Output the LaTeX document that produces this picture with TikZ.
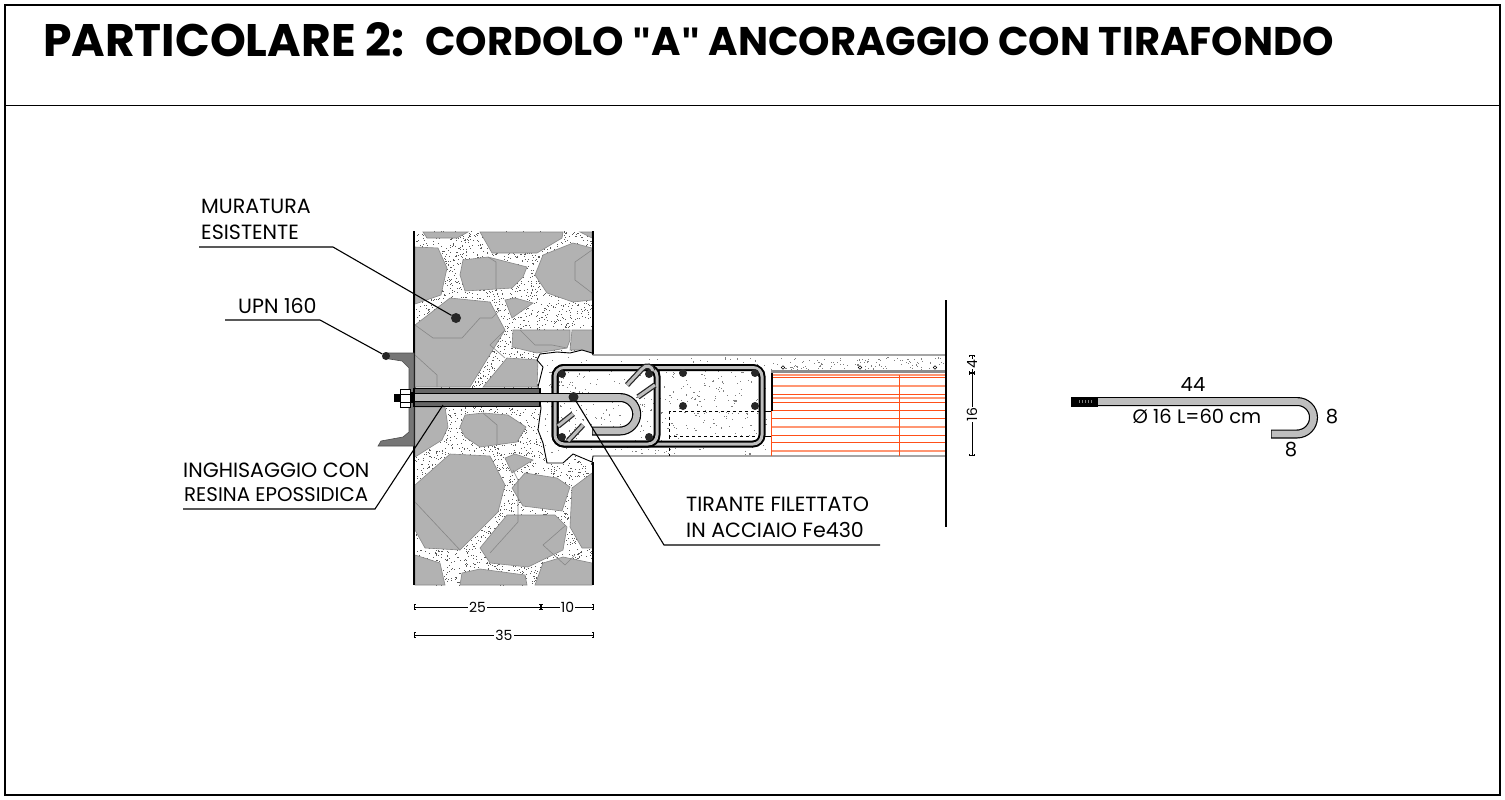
\documentclass[tikz,border=0pt]{standalone}
\usepackage{fontspec}
\setmainfont{Poppins}
\newfontfamily\quotefont{Liberation Sans}
\usetikzlibrary{arrows.meta}
\definecolor{stone}{RGB}{178,178,178}
\definecolor{stoneline}{RGB}{135,135,135}
\definecolor{steel}{RGB}{118,118,118}
\definecolor{hatch}{RGB}{190,190,190}
\definecolor{brickred}{RGB}{255,80,25}
\definecolor{brickpale}{RGB}{255,150,115}
\tikzset{
 stonepoly/.style={fill=stone,draw=stoneline,line width=.6pt},
 veinline/.style={draw=stoneline,line width=.6pt},
 wallside/.style={line width=2.6pt,black},
 labeltext/.style={font=\fontsize{20.6}{24}\selectfont,inner sep=0pt,anchor=west},
 leader/.style={line width=1.1pt,black},
 refdot/.style={circle,fill=black!85,inner sep=0pt,minimum size=10pt},
 bardot/.style={circle,fill=black!85,inner sep=0pt,minimum size=8pt},
 dimtext/.style={font=\fontsize{14}{16}\selectfont,inner sep=1pt,fill=white},
 dimline/.style={line width=.8pt,black,{|[width=6.5pt,length=1.6pt]}-{|[width=6.5pt,length=1.6pt]}},
 plaintext/.style={font=\fontsize{19.5}{22}\selectfont,inner sep=0pt},
 brickline/.style={brickred,line width=.9pt},
 brickfade/.style={brickpale,line width=1.5pt},
 tie outer/.style={line width=7pt,black,rounded corners=9pt},
 tie inner/.style={line width=3pt,hatch,rounded corners=9pt},
 hook outer/.style={line width=5.5pt,black!85,line cap=butt},
 hook inner/.style={line width=3pt,hatch,line cap=butt},
 rod outer/.style={line width=9pt,black,line cap=butt},
 rod inner/.style={line width=6.6pt,hatch,line cap=butt},
}
\begin{document}
\begin{tikzpicture}[x=1pt,y=-1pt]
\useasboundingbox (0,0) rectangle (1505,800);
\fill[white] (0,0) rectangle (1505,800);
% frame
\draw[line width=2.6pt] (5,5) rectangle (1500,795);
\draw[line width=.9pt] (5,105) -- (1500,105);
\node[inner sep=0pt,anchor=west] (titleA) at (43,40) {\fontsize{45.6}{50}\selectfont\bfseries PARTICOLARE 2:};
\node[inner sep=0pt,anchor=west] (titleB) at (425,41) {\fontsize{40}{46}\selectfont\bfseries CORDOLO {\quotefont"}A{\quotefont"} ANCORAGGIO CON TIRAFONDO};
% wall speckle
\pgfmathsetseed{4242}
\foreach \i in {1,...,5200}{
  \pgfmathsetmacro\sx{414+179*rnd}\pgfmathsetmacro\sy{231+354*rnd}
  \fill[black!65] (\sx,\sy) rectangle ++(.8,.8);
}
% stones
\draw[stonepoly] (423,232)--(468,232)--(457,238)--(427,238)--cycle;
\draw[stonepoly] (480,232)--(563,232)--(562,238)--(537,253)--(492,253)--cycle;
\draw[stonepoly] (580,232)--(592,232)--(592,238)--cycle;
\draw[stonepoly] (415,247)--(438,248)--(447,268)--(441,295)--(415,304)--cycle;
\draw[stonepoly] (463,260)--(488,257)--(527,267)--(523,277)--(512,288)--(465,291)--(460,275)--cycle;
\draw[stonepoly] (543,255)--(573,243)--(592,248)--(592,300)--(573,302)--(547,293)--(535,275)--cycle;
\draw[stonepoly] (505,300)--(515,298)--(533,303)--(512,318)--cycle;
\draw[stonepoly] (450,298)--(490,302)--(505,330)--(470,387)--(415,387)--(415,325)--cycle;
\draw[stonepoly] (513,330)--(570,330)--(570,340)--(567,348)--(537,353)--(512,347)--cycle;
\draw[stonepoly] (507,358)--(538,360)--(537,387)--(483,387)--cycle;
\draw[stonepoly] (572,330)--(592,330)--(592,353)--(580,350)--(570,350)--cycle;
\draw[stonepoly] (465,415)--(483,413)--(508,415)--(526,427)--(517,442)--(480,447)--(465,437)--(460,427)--cycle;
\draw[stonepoly] (415,407)--(445,407)--(448,427)--(442,440)--(415,457)--cycle;
\draw[stonepoly] (505,458)--(515,454)--(533,460)--(512,473)--cycle;
\draw[stonepoly] (415,485)--(450,454)--(490,456)--(505,485)--(498,512)--(460,550)--(425,548)--(415,530)--cycle;
\draw[stonepoly] (525,473)--(557,478)--(570,487)--(562,511)--(523,506)--(512,488)--cycle;
\draw[stonepoly] (507,515)--(555,515)--(567,527)--(563,550)--(528,567)--(490,563)--(480,548)--cycle;
\draw[stonepoly] (572,488)--(592,473)--(592,548)--(582,548)--(570,527)--cycle;
\draw[stonepoly] (415,555)--(440,563)--(445,585)--(415,585)--cycle;
\draw[stonepoly] (462,573)--(480,569)--(525,575)--(527,585)--(460,585)--cycle;
\draw[stonepoly] (535,585)--(543,563)--(563,557)--(592,563)--(592,585)--cycle;
% stone veins
\draw[veinline] (488,257)--(496,262)--(496,289);
\draw[veinline] (592,250)--(575,262)--(575,280)--(592,293);
\draw[veinline] (415,325)--(433,338)--(462,338)--(480,318)--(492,318)--(500,310);
\draw[veinline] (505,330)--(490,345)--(505,358);
\draw[veinline] (520,330)--(535,345)--(552,345)--(567,348);
\draw[veinline] (415,355)--(437,375)--(437,387);
\draw[veinline] (483,413)--(497,425)--(497,445);
\draw[veinline] (415,502)--(460,550);
\draw[veinline] (518,480)--(518,522)--(490,553);
\draw[veinline] (566,525)--(543,545)--(565,565)--(575,555);
\draw[veinline] (513,470)--(518,480);
% beam body
\fill[white,draw=black,line width=.9pt] (593,355)--(592,353)--(582,350)--(570,353)--(557,352)--(540,354)--(537,360)--(543,367)--(538,387)--(541,408)--(538,430)--(543,443)--(547,463)--(563,463)--(573,454)--(592,462)--(593,456)--(946,456)--(946,355)--cycle;
\fill[white] (589,356) rectangle (945,455.4);
\pgfmathsetseed{77}
\foreach \i in {1,...,420}{
  \pgfmathsetmacro\sx{544+222*rnd}\pgfmathsetmacro\sy{357+97*rnd}
  \fill[black!50] (\sx,\sy) rectangle ++(1.1,1.1);
}
\foreach \i in {1,...,110}{
  \pgfmathsetmacro\sx{770+175*rnd}\pgfmathsetmacro\sy{357+12*rnd}
  \fill[black!50] (\sx,\sy) rectangle ++(1.1,1.1);
}
% walls
\draw[wallside] (414,231) -- (414,585);
\draw[wallside] (593,231) -- (593,354);
\draw[wallside] (593,462) -- (593,585);
% hollow block
\draw[line width=2.6pt,black!45] (771,371.5) -- (946,371.5);
\foreach \yy in {377,394.5,402,410,418,435,442}{\draw[brickline] (771,\yy) -- (946,\yy);}
\foreach \yy in {375,386,398,427,451}{\draw[brickfade] (771,\yy) -- (946,\yy);}
\draw[brickline] (771.5,373) -- (771.5,456);
\draw[brickline] (899,375) -- (899,456);
\foreach \xx in {783,860,935}{\draw[line width=.6pt] (\xx,367.5) circle[radius=1.8];}
\draw[line width=1.3pt] (772,373) -- (772,411);
\draw[line width=.8pt] (763,411) -- (771,411) (763,436) -- (771,436);
% dashed block
\draw[dashed,line width=.9pt] (760,411) -- (669.5,411) -- (669.5,436) -- (760,436);
\draw[dashed,line width=.9pt] (669.5,436) -- (669.5,456);
% ties
\draw[tie outer] (555,367.5) rectangle (762,444);
\draw[tie inner] (555,367.5) rectangle (762,444);
\draw[tie outer] (555,367.5) rectangle (657,444);
\draw[tie inner] (555,367.5) rectangle (657,444);
% hooks
\draw[hook outer] (627,385) -- (642,369) .. controls (646,364) and (652,366) .. (653,371);
\draw[hook inner] (627,385) -- (642,369) .. controls (646,364) and (652,366) .. (653,371);
\draw[hook outer] (638,397) -- (655,385);
\draw[hook inner] (638,397) -- (655,385);
\draw[hook outer] (558,426) -- (573,414);
\draw[hook inner] (558,426) -- (573,414);
\draw[hook outer] (568,441) -- (583,425);
\draw[hook inner] (568,441) -- (583,425);
% bars
\node[bardot] (b1) at (562,374) {};
\node[bardot] (b2) at (649,374) {};
\node[bardot] (b3) at (562,437) {};
\node[bardot] (b4) at (649,437) {};
\node[bardot] (b5) at (683,373) {};
\node[bardot] (b6) at (683,406) {};
\node[bardot] (b7) at (755,373) {};
\node[bardot] (b8) at (755,406) {};
% UPN
\fill[steel,draw=black!70,line width=.6pt] (414,353)--(385,353)--(383,358)--(402,361)--(409,368)--(409,432)--(403,437)--(381,441)--(378,446)--(414,446)--cycle;
% resin sleeve and rod
\fill[black!60,draw=black,line width=1.2pt] (414,388.5) rectangle (540,406.5);
\draw[rod outer] (415,397.5) -- (620,397.5) .. controls (629.2,397.5) and (636.7,405) .. (636.7,414.2) .. controls (636.7,423.4) and (629.2,431) .. (620,431) -- (592,431);
\draw[rod inner] (415,397.5) -- (620,397.5) .. controls (629.2,397.5) and (636.7,405) .. (636.7,414.2) .. controls (636.7,423.4) and (629.2,431) .. (620,431) -- (592.6,431);
% nut
\fill[black] (394,393.5) rectangle (400,402);
\fill[white,draw=black,line width=1pt] (400,389) rectangle (410,407);
\draw[line width=.8pt] (400,394) -- (410,394) (400,402) -- (410,402);
\fill[black] (410,392) rectangle (415,403);
% leaders
\node[labeltext] (mur1) at (201,206) {MURATURA};
\node[labeltext] (mur2) at (201,232) {ESISTENTE};
\node[labeltext] (upn) at (238,306) {UPN 160};
\node[labeltext] (ing1) at (183,470) {INGHISAGGIO CON};
\node[labeltext,font=\fontsize{19.8}{24}\selectfont] (ing2) at (184,495) {RESINA EPOSSIDICA};
\node[labeltext] (tir1) at (686,504) {TIRANTE FILETTATO};
\node[labeltext] (tir2) at (686,530) {IN ACCIAIO Fe430};
\node[refdot] (dmur) at (456,318) {};
\node[refdot,minimum size=8pt] (dupn) at (386,356) {};
\node[refdot] (dtir) at (573.5,397) {};
\coordinate (ming) at (443,405);
\coordinate (emur) at (333,247); \coordinate (smur) at (199,247);
\coordinate (eupn) at (320,320); \coordinate (supn) at (225,320);
\coordinate (eing) at (375,509); \coordinate (sing) at (183,509);
\coordinate (etir) at (664,545); \coordinate (stir) at (880,545);
\draw[leader] (smur)--(emur)--(dmur);
\draw[leader] (supn)--(eupn)--(dupn);
\draw[leader] (sing)--(eing)--(ming);
\draw[leader] (stir)--(etir)--(dtir);
% wall dimensions
\coordinate (d0) at (414,607); \coordinate (d1) at (541,607); \coordinate (d2) at (594,607);
\coordinate (d3) at (414,635); \coordinate (d4) at (594,635);
\draw[dimline] (d0) -- node[dimtext] (t25) {25} (d1);
\draw[dimline] (d1) -- node[dimtext] (t10) {10} (d2);
\draw[dimline] (d3) -- node[dimtext] (t35) {35} (d4);
% thick end line
\draw[line width=2.6pt] (946,300) -- (946,527);
% vertical dimensions
\coordinate (v0) at (972,355); \coordinate (v1) at (972,373); \coordinate (v2) at (972,456);
\draw[dimline] (v0) -- node[dimtext,rotate=90] (t4) {4} (v1);
\draw[dimline] (v1) -- node[dimtext,rotate=90] (t16) {16} (v2);
% detail rod
\draw[rod outer] (1098,401.5) -- (1297,401.5) .. controls (1306.1,401.5) and (1313.5,408.4) .. (1313.5,417.5) .. controls (1313.5,426.6) and (1306.1,434) .. (1297,434) -- (1271,434);
\draw[rod inner] (1098,401.5) -- (1297,401.5) .. controls (1306.1,401.5) and (1313.5,408.4) .. (1313.5,417.5) .. controls (1313.5,426.6) and (1306.1,434) .. (1297,434) -- (1271.6,434);
\fill[black] (1071,397) rectangle (1098,407);
\draw[black!50,line width=.6pt] (1079,400)--(1079,403) (1082,400)--(1082,403) (1085,400)--(1085,403) (1088,400)--(1088,403) (1091,400)--(1091,403);
\node[plaintext] (l44) at (1193,385) {44};
\node[plaintext] (ldia) at (1197,416) {Ø 16 L=60 cm};
\node[plaintext] (l8a) at (1332,417) {8};
\node[plaintext] (l8b) at (1291,450) {8};
\end{tikzpicture}
\end{document}
